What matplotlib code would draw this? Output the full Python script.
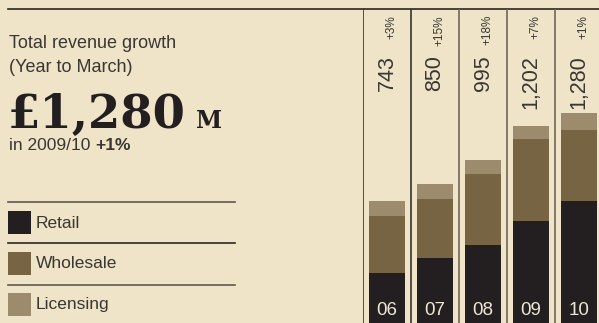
import matplotlib.pyplot as plt
from matplotlib.patches import Rectangle
from matplotlib import font_manager
import numpy as np

# Revenue by channel, £m, financial years to March
years = ['06', '07', '08', '09', '10']
retail = [305, 398, 476, 622, 741]
wholesale = [350, 360, 433, 500, 437]
licensing = [88, 92, 86, 80, 102]
totals = [743, 850, 995, 1202, 1280]
growth = ['+3%', '+15%', '+18%', '+7%', '+1%']

channels = ['Retail', 'Wholesale', 'Licensing']
colors = ['#231f20', '#766442', '#9c8b6d']
bg = '#efe4c8'
ink = '#3a3632'

names = {f.name for f in font_manager.fontManager.ttflist}
narrow = 'Liberation Sans Narrow' if 'Liberation Sans Narrow' in names else 'Liberation Sans'

W, H = 599, 323
fig = plt.figure(figsize=(W / 100, H / 100), dpi=100, facecolor=bg)

# overlay in pixel units for the text block and legend
ax0 = fig.add_axes([0, 0, 1, 1])
ax0.set_xlim(0, W)
ax0.set_ylim(H, 0)
ax0.axis('off')

ax0.plot([8, W], [9, 9], color='#2a2622', lw=1.2)
ax0.text(9, 48, 'Total revenue growth', fontsize=13, color=ink,
         family='Liberation Sans', va='baseline')
ax0.text(9, 72, '(Year to March)', fontsize=13, color=ink,
         family='Liberation Sans', va='baseline')
big = ax0.text(8, 128, f'£{totals[-1]:,}', fontsize=33.5, fontweight='bold',
               color='#231f20', family='DejaVu Serif', va='baseline')
fig.canvas.draw()
bb = big.get_window_extent()
ax0.text(bb.x1 + 10, 128, 'M', fontsize=17, fontweight='bold', color='#231f20',
         family='DejaVu Serif', va='baseline')
sub = ax0.text(9, 150, 'in 2009/10 ', fontsize=12.5, color=ink,
               family='Liberation Sans', va='baseline')
fig.canvas.draw()
sb = sub.get_window_extent()
ax0.text(sb.x1, 150, growth[-1], fontsize=12.5, fontweight='bold', color=ink,
         family='Liberation Sans', va='baseline')

# legend rows separated by rules
rule_y = [202, 243, 285]
rule_c = ['#5f584e', '#2a2622', '#5f584e']
for y, c in zip(rule_y, rule_c):
    ax0.plot([8, 235], [y, y], color=c, lw=1.2)
for i, (name, c) in enumerate(zip(channels, colors)):
    top = 211 + i * 41
    ax0.add_patch(Rectangle((8, top), 23, 23, color=c, lw=0))
    ax0.text(36, top + 12, name, fontsize=12.5, color=ink,
             family='Liberation Sans', va='center')

# stacked bars
px_per_m = 0.164
ax = fig.add_axes([363 / W, 0, 240 / W, (H - 9) / H])
ax.patch.set_visible(False)
x = np.arange(len(years))
width = 0.73
r = np.array(retail)
w = np.array(wholesale)
l = np.array(licensing)
ax.bar(x, r, width, color=colors[0], lw=0)
ax.bar(x, w, width, bottom=r, color=colors[1], lw=0)
ax.bar(x, l, width, bottom=r + w, color=colors[2], lw=0)
ax.set_xlim(-0.5, len(years) - 0.5)
ax.set_ylim(0, (H - 9) / px_per_m)
ax.axis('off')

for i in range(len(years)):
    ax.axvline(i - 0.5, color='#3a3430' if i < 2 else '#6f675b', lw=1.2)

for i, (t, g, yr) in enumerate(zip(totals, growth, years)):
    ax.text(i, 1 - 46 / (H - 9), f'{t:,}', rotation=90, fontsize=15.5,
            color=ink, family=narrow, ha='center', va='top',
            transform=ax.get_xaxis_transform())
    ax.text(i + 0.1, 1 - 6 / (H - 9), g, rotation=90, fontsize=8.5,
            color=ink, family='Liberation Sans', ha='center', va='top',
            transform=ax.get_xaxis_transform())
    ax.text(i, 8 / px_per_m, yr, fontsize=13.5, color='#eee6d6',
            family='Liberation Sans', ha='center', va='baseline')

plt.savefig('out.png', dpi=100, facecolor=bg)
